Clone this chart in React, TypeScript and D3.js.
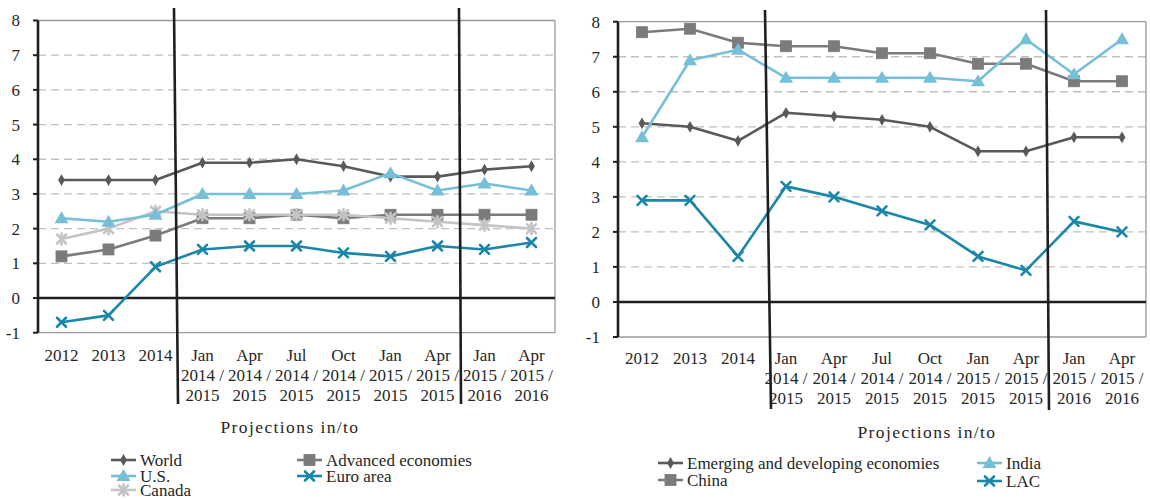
import React from "react";
import * as d3 from "d3";

const categoryLines: string[][] = [
  ["2012"], ["2013"], ["2014"],
  ["Jan", "2014 /", "2015"],
  ["Apr", "2014 /", "2015"],
  ["Jul", "2014 /", "2015"],
  ["Oct", "2014 /", "2015"],
  ["Jan", "2015 /", "2015"],
  ["Apr", "2015 /", "2015"],
  ["Jan", "2015 /", "2016"],
  ["Apr", "2015 /", "2016"],
];
const yTicks = [-1, 0, 1, 2, 3, 4, 5, 6, 7, 8];

const world = [3.4, 3.4, 3.4, 3.9, 3.9, 4.0, 3.8, 3.5, 3.5, 3.7, 3.8];
const us = [2.3, 2.2, 2.4, 3.0, 3.0, 3.0, 3.1, 3.6, 3.1, 3.3, 3.1];
const advanced = [1.2, 1.4, 1.8, 2.3, 2.3, 2.4, 2.3, 2.4, 2.4, 2.4, 2.4];
const canada = [1.7, 2.0, 2.5, 2.4, 2.4, 2.4, 2.4, 2.3, 2.2, 2.1, 2.0];
const euro = [-0.7, -0.5, 0.9, 1.4, 1.5, 1.5, 1.3, 1.2, 1.5, 1.4, 1.6];

const emerging = [5.1, 5.0, 4.6, 5.4, 5.3, 5.2, 5.0, 4.3, 4.3, 4.7, 4.7];
const china = [7.7, 7.8, 7.4, 7.3, 7.3, 7.1, 7.1, 6.8, 6.8, 6.3, 6.3];
const india = [4.7, 6.9, 7.2, 6.4, 6.4, 6.4, 6.4, 6.3, 7.5, 6.5, 7.5];
const lac = [2.9, 2.9, 1.3, 3.3, 3.0, 2.6, 2.2, 1.3, 0.9, 2.3, 2.0];

const DARK = "#595959";
const GRAY = "#7b7b7d";
const LIGHTBLUE = "#77bfd6";
const LIGHTGRAY = "#c4c4c4";
const TEAL = "#1a86a8";
const FONT = "'Liberation Serif', 'DejaVu Serif', serif";

type Marker = "diamond" | "square" | "triangle" | "x" | "star";
type Series = { name: string; values: number[]; color: string; marker: Marker };

function MarkerShape({ type, x, y, color }: { type: Marker; x: number; y: number; color: string }) {
  if (type === "diamond") {
    const p = d3.symbol().type(d3.symbolDiamond).size(40)();
    return <path d={p || ""} transform={`translate(${x},${y})`} fill={color} />;
  }
  if (type === "square") {
    return <rect x={x - 5.5} y={y - 5.5} width={11} height={11} fill={color} stroke={color} strokeWidth={0.8} />;
  }
  if (type === "triangle") {
    return <path d={`M${x},${y - 7}L${x + 7},${y + 5}L${x - 7},${y + 5}Z`} fill={color} />;
  }
  const s = 4.5;
  return (
    <g stroke={color} strokeWidth={2.6} strokeLinecap="round">
      <line x1={x - s} y1={y - s} x2={x + s} y2={y + s} />
      <line x1={x - s} y1={y + s} x2={x + s} y2={y - s} />
      {type === "star" && <line x1={x} y1={y - s - 1} x2={x} y2={y + s + 1} />}
    </g>
  );
}

type ChartProps = {
  left: number; right: number; top: number; bottom: number;
  series: Series[];
  labelY0: number;
  dividers: { top: number; bottom: number; dxTop: number; dxBottom: number }[];
  dividerAt: number[];
  titleX: number; titleY: number;
  legend: { name: string; color: string; marker: Marker; x: number; y: number }[];
};

function Chart(p: ChartProps) {
  const x = d3.scaleBand<number>().domain(d3.range(categoryLines.length)).range([p.left, p.right]);
  const y = d3.scaleLinear().domain([-1, 8]).range([p.bottom, p.top]);
  const cx = (i: number) => (x(i) as number) + x.bandwidth() / 2;
  const line = d3.line<number>().x((_, i) => cx(i)).y((v) => y(v));
  return (
    <g style={{ fontFamily: FONT }}>
      {yTicks.filter((t) => t > 0 && t < 8).map((t) => (
        <line key={t} x1={p.left} x2={p.right} y1={y(t)} y2={y(t)} stroke="#c0c0c0" strokeWidth={1.3} strokeDasharray="8,5" />
      ))}
      <line x1={p.left} x2={p.right} y1={y(8)} y2={y(8)} stroke="#9a9a9a" strokeWidth={1.3} />
      <line x1={p.left} x2={p.right} y1={y(-1)} y2={y(-1)} stroke="#9a9a9a" strokeWidth={1.3} />
      <line x1={p.right} x2={p.right} y1={y(8)} y2={y(-1)} stroke="#9a9a9a" strokeWidth={1.3} />
      <line x1={p.left} x2={p.right} y1={y(0)} y2={y(0)} stroke="#1f1f1f" strokeWidth={2.6} />
      <line x1={p.left} x2={p.left} y1={y(8)} y2={y(-1)} stroke="#1f1f1f" strokeWidth={2.6} />
      {yTicks.map((t) => (
        <g key={t}>
          <line x1={p.left - 5} x2={p.left} y1={y(t)} y2={y(t)} stroke="#1f1f1f" strokeWidth={2} />
          <text x={p.left - 18} y={y(t)} dy="0.35em" textAnchor="end" fontSize={17} fill="#262626">{t}</text>
        </g>
      ))}
      {categoryLines.map((lines, i) => (
        <text key={i} textAnchor="middle" fontSize={17} fill="#262626">
          {lines.map((l, j) => (
            <tspan key={j} x={cx(i)} y={p.labelY0 + j * 20}>{l}</tspan>
          ))}
        </text>
      ))}
      {p.series.map((s) => (
        <g key={s.name}>
          <path d={line(s.values) || ""} fill="none" stroke={s.color} strokeWidth={2.6} strokeLinejoin="round" />
          {s.values.map((v, i) => (
            <MarkerShape key={i} type={s.marker} x={cx(i)} y={y(v)} color={s.color} />
          ))}
        </g>
      ))}
      {p.dividerAt.map((b, k) => {
        const d = p.dividers[k];
        const bx = x(b) as number;
        return <line key={k} x1={bx + d.dxTop} x2={bx + d.dxBottom} y1={d.top} y2={d.bottom} stroke="#1f1f1f" strokeWidth={2.6} />;
      })}
      <text x={p.titleX} y={p.titleY} textAnchor="middle" fontSize={17.5} fill="#262626" letterSpacing={1.4}>Projections in/to</text>
      {p.legend.map((l) => (
        <g key={l.name}>
          <line x1={l.x} x2={l.x + 25} y1={l.y} y2={l.y} stroke={l.color} strokeWidth={2.6} />
          <MarkerShape type={l.marker} x={l.x + 12.5} y={l.y} color={l.color} />
          <text x={l.x + 29} y={l.y} dy="0.33em" fontSize={17} fill="#262626">{l.name}</text>
        </g>
      ))}
    </g>
  );
}

const leftSeries: Series[] = [
  { name: "World", values: world, color: DARK, marker: "diamond" },
  { name: "Advanced economies", values: advanced, color: GRAY, marker: "square" },
  { name: "Canada", values: canada, color: LIGHTGRAY, marker: "star" },
  { name: "U.S.", values: us, color: LIGHTBLUE, marker: "triangle" },
  { name: "Euro area", values: euro, color: TEAL, marker: "x" },
];
const rightSeries: Series[] = [
  { name: "China", values: china, color: GRAY, marker: "square" },
  { name: "Emerging and developing economies", values: emerging, color: DARK, marker: "diamond" },
  { name: "India", values: india, color: LIGHTBLUE, marker: "triangle" },
  { name: "LAC", values: lac, color: TEAL, marker: "x" },
];

export default function App() {
  return (
    <svg width={1150} height={499} style={{ position: "absolute", left: 0, top: 0, background: "#fff" }}>
      <Chart
        left={38} right={555} top={20.5} bottom={332.7}
        series={leftSeries}
        labelY0={361}
        dividerAt={[3, 9]}
        dividers={[
          { top: 8, bottom: 404, dxTop: -5, dxBottom: -1 },
          { top: 8, bottom: 404, dxTop: -2, dxBottom: 0 },
        ]}
        titleX={290} titleY={433}
        legend={[
          { name: "World", color: DARK, marker: "diamond", x: 111, y: 460 },
          { name: "U.S.", color: LIGHTBLUE, marker: "triangle", x: 111, y: 476 },
          { name: "Canada", color: LIGHTGRAY, marker: "star", x: 111, y: 490 },
          { name: "Advanced economies", color: GRAY, marker: "square", x: 297, y: 460 },
          { name: "Euro area", color: TEAL, marker: "x", x: 297, y: 476 },
        ]}
      />
      <Chart
        left={618} right={1146} top={21.7} bottom={337}
        series={rightSeries}
        labelY0={364}
        dividerAt={[3, 9]}
        dividers={[
          { top: 10, bottom: 409, dxTop: 3, dxBottom: 9 },
          { top: 10, bottom: 410, dxTop: -4, dxBottom: -1 },
        ]}
        titleX={927} titleY={438}
        legend={[
          { name: "Emerging and developing economies", color: DARK, marker: "diamond", x: 658, y: 463 },
          { name: "China", color: GRAY, marker: "square", x: 658, y: 480 },
          { name: "India", color: LIGHTBLUE, marker: "triangle", x: 977, y: 463 },
          { name: "LAC", color: TEAL, marker: "x", x: 977, y: 481 },
        ]}
      />
    </svg>
  );
}
